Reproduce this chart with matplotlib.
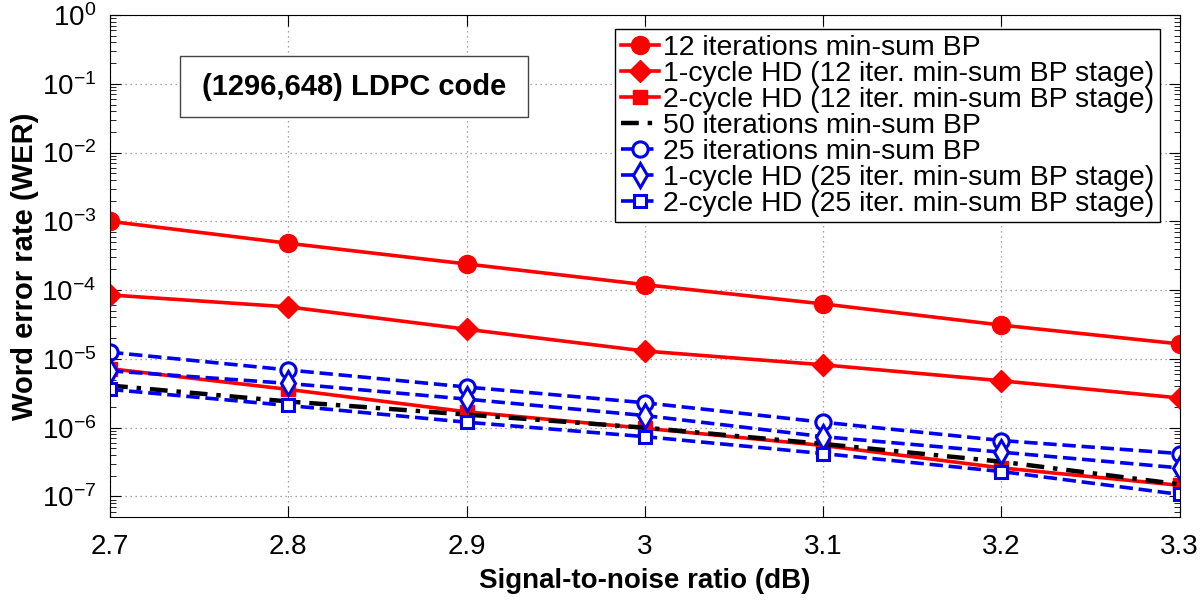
import numpy as np
import matplotlib
matplotlib.use("Agg")
import matplotlib.pyplot as plt
from matplotlib.patches import Rectangle
from matplotlib.ticker import LogLocator, NullFormatter

plt.rcParams['font.family'] = ['Liberation Sans', 'DejaVu Sans']
plt.rcParams['mathtext.fontset'] = 'custom'
plt.rcParams['mathtext.rm'] = 'Liberation Sans'
plt.rcParams['mathtext.it'] = 'Liberation Sans:italic'
plt.rcParams['mathtext.bf'] = 'Liberation Sans:bold'

# SNR points (dB)
snr = [2.7, 2.8, 2.9, 3.0, 3.1, 3.2, 3.3]
snr_labels = ['2.7', '2.8', '2.9', '3', '3.1', '3.2', '3.3']
wer_ticks = [1e-7, 1e-6, 1e-5, 1e-4, 1e-3, 1e-2, 1e-1, 1e0]

# word error rates
wer_bp12 = [1.0e-3, 4.8e-4, 2.4e-4, 1.2e-4, 6.3e-5, 3.1e-5, 1.65e-5]
wer_hd1_12 = [8.5e-5, 5.7e-5, 2.7e-5, 1.3e-5, 8.2e-6, 4.8e-6, 2.7e-6]
wer_hd2_12 = [7.2e-6, 3.6e-6, 1.7e-6, 9.8e-7, 5.5e-7, 2.6e-7, 1.45e-7]
wer_bp50 = [4.1e-6, 2.4e-6, 1.55e-6, 1.0e-6, 5.8e-7, 3.2e-7, 1.5e-7]
wer_bp25 = [1.25e-5, 6.9e-6, 3.9e-6, 2.3e-6, 1.2e-6, 6.5e-7, 4.2e-7]
wer_hd1_25 = [6.7e-6, 4.4e-6, 2.6e-6, 1.5e-6, 7.4e-7, 4.4e-7, 2.6e-7]
wer_hd2_25 = [3.6e-6, 2.1e-6, 1.2e-6, 7.4e-7, 4.2e-7, 2.3e-7, 1.07e-7]

labels = [
    '12 iterations min-sum BP',
    '1-cycle HD (12 iter. min-sum BP stage)',
    '2-cycle HD (12 iter. min-sum BP stage)',
    '50 iterations min-sum BP',
    '25 iterations min-sum BP',
    '1-cycle HD (25 iter. min-sum BP stage)',
    '2-cycle HD (25 iter. min-sum BP stage)',
]

fig = plt.figure(figsize=(12, 6.02), dpi=100)
ax = fig.add_axes([0.0917, 0.141, 0.8913, 0.834])

red = '#ff0000'
blue = '#0000ee'
lw = 2.6
ax.semilogy(snr, wer_bp12, '-', color=red, lw=lw, marker='o', ms=13, label=labels[0])
ax.semilogy(snr, wer_hd1_12, '-', color=red, lw=lw, marker='D', ms=11, label=labels[1])
ax.semilogy(snr, wer_hd2_12, '-', color=red, lw=lw, marker='s', ms=10, label=labels[2])
ax.semilogy(snr, wer_bp50, color='black', lw=3.2, dashes=(4, 2, 1, 2), label=labels[3])
ax.semilogy(snr, wer_bp25, '--', color=blue, lw=lw, marker='o', ms=11, mfc='white', mew=2.2, label=labels[4])
ax.semilogy(snr, wer_hd1_25, '--', color=blue, lw=lw, marker='d', ms=12, mfc='white', mew=2.2, label=labels[5])
ax.semilogy(snr, wer_hd2_25, '--', color=blue, lw=lw, marker='s', ms=9, mfc='white', mew=2.2, label=labels[6])

ax.set_xlim(2.7, 3.3)
ax.set_ylim(5e-8, 1)
ax.set_xticks(snr)
ax.set_xticklabels(snr_labels)
ax.set_yticks(wer_ticks)
ax.yaxis.set_minor_locator(LogLocator(base=10, subs=np.arange(2, 10), numticks=20))
ax.yaxis.set_minor_formatter(NullFormatter())

ax.tick_params(which='both', direction='in', top=True, right=True, labelsize=20)
ax.tick_params(which='major', length=8, width=0.8)
ax.tick_params(which='minor', length=4, width=0.6)
ax.tick_params(axis='x', pad=12)
ax.tick_params(axis='y', pad=10)
ax.grid(True, which='major', linestyle=(0, (1, 3)), color='#888888', lw=0.9)

ax.set_xlabel('Signal-to-noise ratio (dB)', fontsize=20, fontweight='bold', labelpad=6)
ax.set_ylabel('Word error rate (WER)', fontsize=21, fontweight='bold', labelpad=2)

# annotation box
ax.add_patch(Rectangle((0.0654, 0.797), 0.3253, 0.121, transform=ax.transAxes,
                       fc='white', ec='#444444', lw=1, zorder=5))
ax.text(0.228, 0.857, '(1296,648) LDPC code', transform=ax.transAxes, ha='center', va='center',
        fontsize=21, fontweight='bold', zorder=6)

leg = ax.legend(loc='upper right', bbox_to_anchor=(0.982, 0.972), fontsize=20.5, handlelength=1.35,
                handletextpad=0.15, labelspacing=0.0, borderpad=0.2, fancybox=False,
                edgecolor='black', framealpha=1, borderaxespad=0)
leg.get_frame().set_linewidth(1.0)

fig.savefig('out.png', dpi=100)
